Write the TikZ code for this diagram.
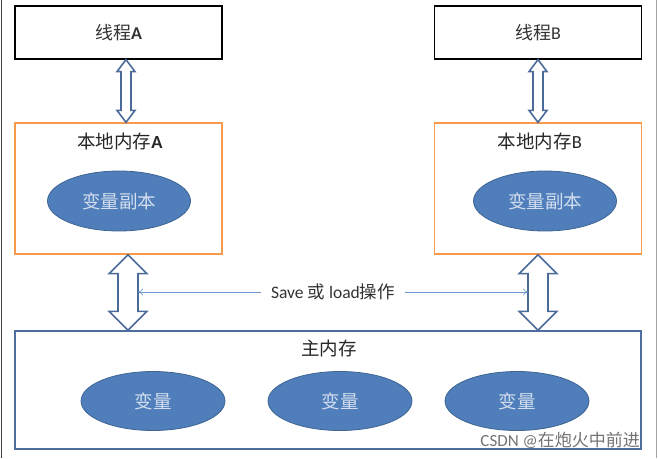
\documentclass[tikz,border=0pt]{standalone}
\usepackage{fontspec}
\setmainfont{Carlito}
\newfontfamily\cjk{Noto Sans CJK SC}
\usetikzlibrary{calc,shapes.geometric,arrows.meta}

\definecolor{ellfill}{HTML}{4F7EBB}
\definecolor{elledge}{HTML}{3E6593}
\definecolor{elltext}{HTML}{D3DEEF}
\definecolor{arrowedge}{HTML}{4A6B9A}
\definecolor{localedge}{HTML}{F79A4E}
\definecolor{mainedge}{HTML}{4D6E9E}
\definecolor{thinblue}{HTML}{6A93CF}

\tikzset{
  threadbox/.style={draw=black, line width=1.3pt, minimum width=207pt, minimum height=53pt,
    font=\fontsize{18}{20}\selectfont, text=black!80},
  localbox/.style={draw=localedge, line width=1.3pt, minimum width=207pt, minimum height=131pt},
  mainbox/.style={draw=mainedge, line width=1.3pt, minimum width=626pt, minimum height=118pt},
  boxtitle/.style={font=\fontsize{18.5}{20}\selectfont, text=black!85},
  varell/.style={ellipse, draw=elledge, fill=ellfill, line width=0.8pt, minimum width=143pt,
    minimum height=60pt, text=elltext, font=\cjk\fontsize{18.5}{20}\selectfont},
  fatarrow/.style={draw=arrowedge, fill=white, line width=1.6pt, line join=miter},
  thinarrow/.style={draw=thinblue, line width=0.6pt, -{To[length=5pt,width=7pt]}},
}

% vertical double arrow: top, bottom, shaft half width, head half width, head length
\newcommand{\vdoublearrow}[5]{%
  \draw[fatarrow] let \p1=(#1), \p2=(#2) in
    (\x1,\y1) -- (\x1+#4pt,\y1-#5pt) -- (\x1+#3pt,\y1-#5pt) -- (\x2+#3pt,\y2+#5pt)
    -- (\x2+#4pt,\y2+#5pt) -- (\x2,\y2) -- (\x2-#4pt,\y2+#5pt) -- (\x2-#3pt,\y2+#5pt)
    -- (\x1-#3pt,\y1-#5pt) -- (\x1-#4pt,\y1-#5pt) -- cycle;}

\begin{document}
\begin{tikzpicture}[x=1pt,y=-1pt]
\useasboundingbox (0,0) rectangle (658,458);

% Frame
\draw[black!75, line width=1.2pt] (1.5,0) -- (1.5,458);
\draw[black!35, line width=1pt] (656.5,0) -- (656.5,458);

% Threads
\node[threadbox] (threadA) at (118.5,32.5) {{\cjk 线程}\textbf{A}};
\node[threadbox] (threadB) at (538,32.5) {{\cjk 线程}B};

% Local memories
\node[localbox] (localA) at (118.5,188.5) {};
\node[localbox] (localB) at (538,188.5) {};
\node[boxtitle] (titleA) at (120,141) {{\cjk 本地内存}\textbf{A}};
\node[boxtitle] (titleB) at (540,141) {{\cjk 本地内存}B};
\node[varell] (copyA) at (119,201) {变量副本};
\node[varell] (copyB) at (545,201) {变量副本};

% Main memory
\node[mainbox] (mainmem) at (328,390) {};
\node[boxtitle] (mainTitle) at (329,348) {\cjk 主内存};
\foreach \x/\n in {153/1, 340/2, 517/3}
  \node[varell, minimum width=144pt, minimum height=59pt] (var\n) at (\x,401) {变量};

% Double arrows
\coordinate (ta) at ([xshift=7.5]threadA.south);
\coordinate (la) at ([xshift=9.5]localA.south);
\coordinate (lb) at (localB.south);
\vdoublearrow{ta}{ta |- localA.north}{5}{9}{12}
\vdoublearrow{threadB.south}{threadB.south |- localB.north}{5}{9}{12}
\vdoublearrow{la}{la |- mainmem.north}{10}{19}{19}
\vdoublearrow{lb}{lb |- mainmem.north}{10}{19}{19}

% Save or load
\node[font=\fontsize{17.5}{20}\selectfont, text=black!80, inner xsep=10pt] (saveop) at (333,292)
  {Save {\cjk 或} load{\cjk 操作}};
\coordinate (lshaft) at ([xshift=10]la);
\coordinate (rshaft) at ([xshift=-10]lb);
\draw[thinarrow] (saveop.west) -- (saveop.west -| lshaft);
\draw[thinarrow] (saveop.east) -- (saveop.east -| rshaft);

% Watermark
\node[anchor=east, font=\fontsize{17}{19}\selectfont, text=black!55, inner sep=1pt] (mark) at (641,440)
  {CSDN @{\cjk 在炮火中前进}};
\end{tikzpicture}
\end{document}
